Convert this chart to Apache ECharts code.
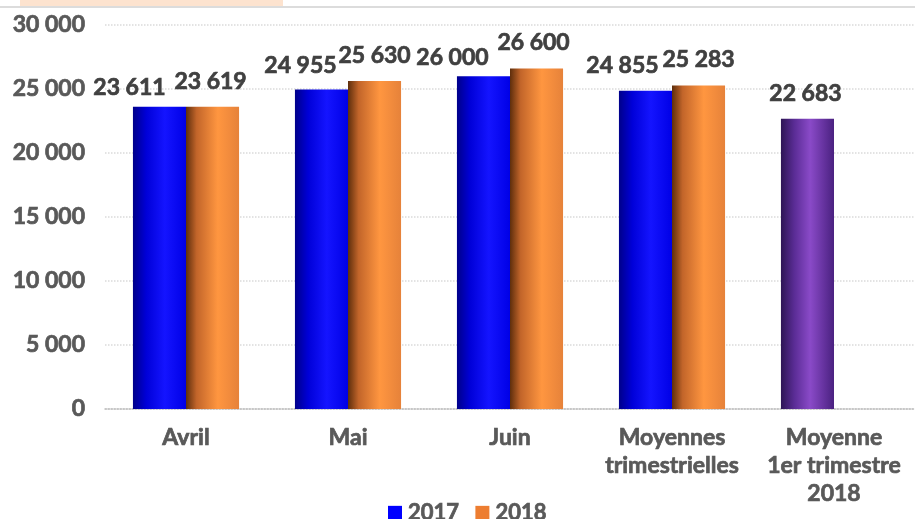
<!DOCTYPE html>
<html>
<head>
<meta charset="utf-8">
<script src="https://cdn.jsdelivr.net/npm/echarts@6/dist/echarts.min.js"></script>
<style>
  html, body { margin: 0; padding: 0; background: #fff; }
  #chart { width: 915px; height: 519px; }
</style>
</head>
<body>
<div id="chart"></div>
<script>
// data
const categories = ['Avril', 'Mai', 'Juin', 'Moyennes\ntrimestrielles', 'Moyenne\n1er trimestre\n2018'];
const values2017 = [23611, 24955, 26000, 24855, 22683];
const values2018 = [23619, 25630, 26600, 25283, null];
const yTicks = { min: 0, max: 30000, interval: 5000 };

// label nudges (like the hand-moved labels of the original)
const shift2017 = [[-30, 6], [-21, 2], [-31, 7], [-23, 0], [-2, 0]];
const shift2018 = [[-2, 0], [0, 0], [-3, 0], [0, 0]];

const FONT = 'Lato';
const fmt = v => String(v).replace(/\B(?=(\d{3})+(?!\d))/g, ' ');

// 3D-ish cylinder look with horizontal gradients
const grad = stops => new echarts.graphic.LinearGradient(0, 0, 1, 0,
    stops.map(s => ({ offset: s[0], color: s[1] })));
const blueFill = grad([[0, '#00008a'], [0.25, '#0000d8'], [0.6, '#1414ff'], [1, '#0000e6']]);
const orangeFill = grad([[0, '#5e2e0c'], [0.2, '#c2652a'], [0.6, '#ff9640'], [1, '#e6823a']]);
const purpleFill = grad([[0, '#2e1555'], [0.25, '#5a2c95'], [0.55, '#8a4ac8'], [1, '#4a2180']]);

const boldText = (color, size) => ({
    fontFamily: FONT,
    fontWeight: 'bold',
    fontSize: size,
    color: color,
    textBorderColor: color,
    textBorderWidth: 0.7
});

const chart = echarts.init(document.getElementById('chart'));

const option = {
    animation: false,
    backgroundColor: '#fff',
    textStyle: { fontFamily: FONT },
    graphic: [
        // header decoration
        { type: 'rect', left: 20, top: 0, shape: { width: 263, height: 6 }, style: { fill: '#fde3cf' } },
        { type: 'rect', left: 0, top: 6, shape: { width: 915, height: 2 }, style: { fill: '#dcdcdc' } }
    ],
    grid: {
        left: 105,
        right: 0,
        top: 25,
        bottom: 110
    },
    legend: {
        left: 383,
        top: 497,
        itemWidth: 14,
        itemHeight: 15,
        itemGap: 16,
        icon: 'rect',
        textStyle: Object.assign(boldText('#595959', 22), { padding: [0, 0, 0, 1] }),
        data: [
            { name: '2017', itemStyle: { color: '#0000ff' } },
            { name: '2018', itemStyle: { color: '#ed7d31' } }
        ]
    },
    xAxis: {
        type: 'category',
        data: categories,
        axisLine: { show: true, lineStyle: { color: '#bfbfbf', width: 1.5, type: 'dotted' } },
        axisTick: { show: false },
        axisLabel: Object.assign(boldText('#595959', 23), {
            interval: 0,
            margin: 15,
            lineHeight: 28
        })
    },
    yAxis: {
        type: 'value',
        min: yTicks.min,
        max: yTicks.max,
        interval: yTicks.interval,
        axisLine: { show: false },
        axisTick: { show: false },
        splitLine: { show: true, lineStyle: { color: '#dadada', width: 1.5, type: 'dotted' } },
        axisLabel: Object.assign(boldText('#595959', 23), {
            margin: 20,
            formatter: fmt
        })
    },
    series: [
        {
            name: '2017',
            type: 'bar',
            barGap: '0%',
            barCategoryGap: '34.5%',
            itemStyle: { color: blueFill },
            label: Object.assign(boldText('#404040', 23), {
                show: true,
                position: 'top',
                distance: 14,
                formatter: p => fmt(p.value)
            }),
            data: values2017.map((v, i) => ({
                value: v,
                label: { offset: shift2017[i] },
                itemStyle: i === 4 ? { color: purpleFill } : undefined
            }))
        },
        {
            name: '2018',
            type: 'bar',
            itemStyle: { color: orangeFill },
            label: Object.assign(boldText('#404040', 23), {
                show: true,
                position: 'top',
                distance: 14,
                formatter: p => fmt(p.value)
            }),
            data: values2018.map((v, i) => v === null ? '-' : ({
                value: v,
                label: { offset: shift2018[i] }
            }))
        }
    ]
};

chart.setOption(option);
</script>
</body>
</html>
